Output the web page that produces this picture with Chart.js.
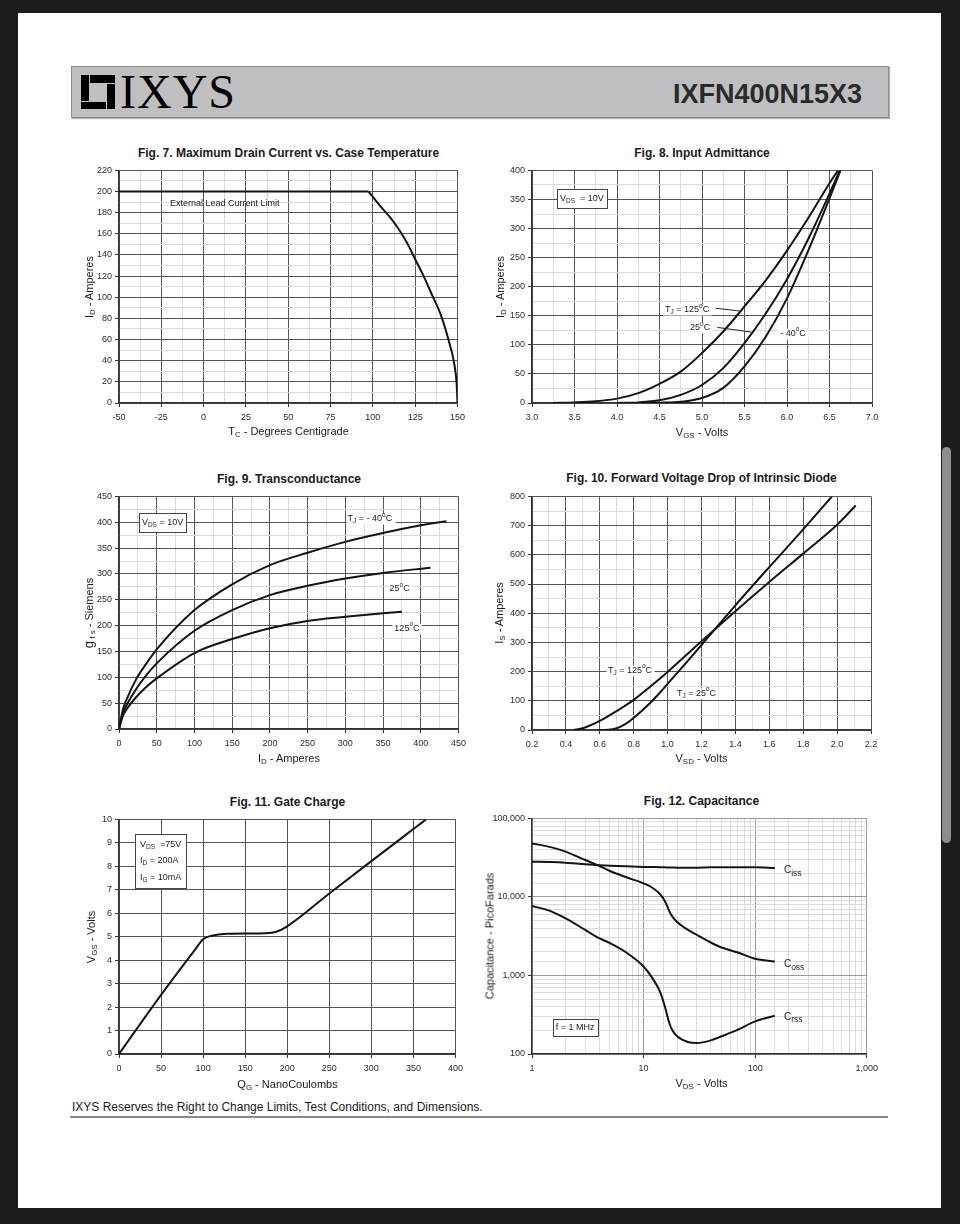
<!DOCTYPE html>
<html>
<head>
<meta charset="utf-8">
<script src="https://cdn.jsdelivr.net/npm/chart.js@4.4.1/dist/chart.umd.min.js"></script>
<style>
  html, body { margin: 0; padding: 0; background: #1c1c1e; overflow: hidden; }
  body { width: 960px; height: 1224px; position: relative; font-family: 'Liberation Sans', Arial, sans-serif; color: #1a1a1a; }
  .page { position: absolute; left: 18px; top: 13px; width: 923px; height: 1195px; background: #fff; }
  .scroll { position: absolute; left: 942px; top: 447px; width: 9px; height: 396px; border-radius: 5px; background: #8e8e8e; }
  .band { position: absolute; left: 71px; top: 66px; width: 816px; height: 50px; background: #bfbfc1; border: 1px solid #8d8d8d; box-shadow: 1px 1px 1px #b0b0b0; }
  .logo { position: absolute; background: #000; }
  .brand { position: absolute; left: 120px; top: 68px; font: 48px/48px 'Liberation Serif', 'Times New Roman', serif; letter-spacing: 1px; color: #000; }
  .part { position: absolute; right: 98px; top: 81px; font: bold 27px/27px 'Liberation Sans', Arial, sans-serif; color: #2a2a2a; }
  .footline { position: absolute; left: 70px; top: 1116px; width: 818px; height: 1.5px; background: #8a8a8a; }
  .txt { position: absolute; white-space: nowrap; line-height: 1; color: #1a1a1a; }
  .txt sub { font-size: 72%; vertical-align: -0.3em; line-height: 0; }
  canvas { position: absolute; }
</style>
</head>
<body>
<div class="page"></div>
<div class="scroll"></div>
<div class="band"></div>
<div class="logo" style="left:81px;top:75px;width:8px;height:26px"></div>
<div class="logo" style="left:90px;top:75px;width:25px;height:8px"></div>
<div class="logo" style="left:107px;top:84px;width:8px;height:25px"></div>
<div class="logo" style="left:81px;top:102px;width:25px;height:7px"></div>
<div class="brand">IXYS</div>
<div class="part">IXFN400N15X3</div>
<div class="footline"></div>

<canvas id="fig7"></canvas>
<canvas id="fig8"></canvas>
<canvas id="fig9"></canvas>
<canvas id="fig10"></canvas>
<canvas id="fig11"></canvas>
<canvas id="fig12"></canvas>

<script>
// Fig. 7 - max drain current vs case temperature (first 4 points = lead limit)
const caseTemp = [-50, 0, 50, 97.5, 105, 110, 115, 120, 125, 130, 135, 140, 145, 148, 149.5, 150];
const drainMax = [200, 200, 200, 200, 185, 176, 165, 152, 136, 120, 102, 84, 58, 38, 18, 0];

// Fig. 8 - input admittance
const vgs125 = [3.25, 3.5, 3.75, 4.0, 4.25, 4.5, 4.75, 5.0, 5.25, 5.5, 5.75, 6.0, 6.25, 6.5, 6.6];
const id125 = [0, 1, 3, 7.5, 17, 33, 54, 86, 123, 166, 211, 262, 318, 378, 400];
const vgs25 = [4.0, 4.25, 4.5, 4.75, 5.0, 5.25, 5.5, 5.75, 6.0, 6.25, 6.5, 6.62];
const id25 = [0, 1, 4.6, 14, 31, 60, 103, 154, 213, 282, 360, 400];
const vgsM40 = [4.3, 4.5, 4.75, 5.0, 5.25, 5.5, 5.75, 6.0, 6.25, 6.5, 6.63];
const idM40 = [0, 0.5, 2, 8.6, 26, 63, 114, 180, 262, 352, 400];

// Fig. 9 - transconductance
const idGfsM40 = [0, 5, 10, 23, 35, 50, 100, 150, 200, 250, 300, 350, 400, 434];
const gfsM40 = [0, 37, 57, 97, 124, 154, 230, 280, 317, 341, 362, 379, 394, 402];
const idGfs25 = [0, 5, 10, 23, 35, 50, 100, 150, 200, 250, 300, 350, 413];
const gfs25 = [0, 30, 46, 78, 102, 127, 190, 230, 259, 277, 291, 302, 312];
const idGfs125 = [0, 5, 10, 23, 35, 50, 100, 150, 200, 250, 300, 350, 375];
const gfs125 = [0, 25, 38, 62, 80, 98, 147, 174, 195, 209, 217, 224, 227];

// Fig. 10 - diode forward voltage
const vsd125 = [0.445, 0.5, 0.6, 0.7, 0.8, 0.9, 1.0, 1.2, 1.4, 1.6, 1.8, 2.0, 2.11];
const is125 = [0, 6, 31, 65, 103, 150, 199, 304, 407, 507, 604, 703, 769];
const vsd25 = [0.58, 0.65, 0.7, 0.75, 0.8, 0.85, 0.9, 0.95, 1.0, 1.1, 1.2, 1.4, 1.6, 1.8, 1.97];
const is25 = [0, 1, 6, 20, 42, 67, 94, 125, 158, 224, 291, 427, 558, 687, 800];

// Fig. 11 - gate charge
const gateCharge = [0, 50, 90, 100, 110, 128, 150, 167, 187, 199, 250, 300, 350, 365];
const gateVolts = [0, 2.52, 4.43, 4.89, 5.04, 5.13, 5.14, 5.14, 5.21, 5.42, 6.84, 8.22, 9.59, 10];

// Fig. 12 - capacitance
const vdsCap = [1, 1.5, 2, 3, 4, 5, 7, 10, 12, 14, 15.5, 17, 18, 20, 25, 30, 40, 50, 70, 100, 150];
const ciss = [28100, 27900, 27300, 26000, 25300, 25000, 24500, 24100, 24000, 23900, 23800, 23700, 23700, 23600, 23600, 23600, 23800, 23800, 23800, 23800, 23400];
const coss = [48100, 42800, 37700, 29500, 24800, 21400, 17800, 14900, 13100, 10900, 8900, 6600, 5700, 4800, 3800, 3290, 2630, 2270, 1960, 1630, 1510];
const crss = [7690, 6510, 5350, 3800, 2980, 2580, 1960, 1300, 925, 626, 404, 248, 204, 168, 142, 138, 149, 168, 204, 260, 307];

const FAMILY = "'Liberation Sans', Arial, sans-serif";
const MAJOR = '#555';
const MINOR = '#dadada';
Chart.defaults.font.family = FAMILY;
Chart.defaults.font.size = 9;
Chart.defaults.color = '#2a2a2a';

// plot rectangles on the page
const boxes = {
  fig7:  { L: 119, T: 170, R: 458, B: 403, titleY: 153, xTitleY: 431, yTitleX: 89 },
  fig8:  { L: 532, T: 170, R: 872, B: 403, titleY: 153, xTitleY: 432, yTitleX: 500 },
  fig9:  { L: 119, T: 496, R: 459, B: 729, titleY: 479, xTitleY: 758, yTitleX: 88 },
  fig10: { L: 532, T: 496, R: 871, B: 730, titleY: 478, xTitleY: 758, yTitleX: 499 },
  fig11: { L: 119, T: 819, R: 456, B: 1054, titleY: 802, xTitleY: 1084, yTitleX: 91 },
  fig12: { L: 532, T: 818, R: 871, B: 1054, titleY: 801, xTitleY: 1083, yTitleX: 490 }
};

const texts = {
  fig7:  ['Fig. 7. Maximum Drain Current vs. Case Temperature', 'T<sub>C</sub> - Degrees Centigrade', 'I<sub>D</sub> - Amperes'],
  fig8:  ['Fig. 8. Input Admittance', 'V<sub>GS</sub> - Volts', 'I<sub>D</sub> - Amperes'],
  fig9:  ['Fig. 9. Transconductance', 'I<sub>D</sub> - Amperes', '<span style="font-size:13px">g</span><sub> f s</sub> - Siemens'],
  fig10: ['Fig. 10. Forward Voltage Drop of Intrinsic Diode', 'V<sub>SD</sub> - Volts', 'I<sub>S</sub> - Amperes'],
  fig11: ['Fig. 11. Gate Charge', 'Q<sub>G</sub> - NanoCoulombs', 'V<sub>GS</sub> - Volts'],
  fig12: ['Fig. 12. Capacitance', 'V<sub>DS</sub> - Volts', 'Capacitance - PicoFarads']
};

const notes = {
  fig7: [{ x: -19.9, y: 188.8, text: 'External Lead Current Limit' }],
  fig8: [
    { x: 3.33, y: 352, text: 'V_{DS}  = 10V', box: true, pad: [3, 5] },
    { x: 4.565, y: 160, text: 'T_{J} = 125^{o}C', bg: true, line: [5.16, 163, 5.45, 158] },
    { x: 4.86, y: 129, text: '25^{o}C', bg: true, line: [5.18, 130, 5.58, 122] },
    { x: 5.92, y: 120, text: '- 40^{o}C', bg: true }
  ],
  fig9: [
    { x: 30.4, y: 400, text: 'V_{DS} = 10V', box: true, pad: [3, 5] },
    { x: 303, y: 407, text: 'T_{J} = - 40^{o}C', bg: true },
    { x: 358.7, y: 272, text: '25^{o}C', bg: true },
    { x: 365, y: 195, text: '125^{o}C', bg: true }
  ],
  fig10: [
    { x: 0.648, y: 205, text: 'T_{J} = 125^{o}C', bg: true },
    { x: 1.055, y: 126, text: 'T_{J} = 25^{o}C', bg: true }
  ],
  fig11: [
    { x: 25, y: 8.94, lines: ['V_{DS}  =75V', 'I_{D} = 200A', 'I_{G} = 10mA'], gap: 16.5, box: true, pad: [5, 6] }
  ],
  fig12: [
    { x: 181, y: 21800, text: 'C_{iss}', size: 10, sub: 0.85 },
    { x: 181, y: 1390, text: 'C_{oss}', size: 10, sub: 0.85 },
    { x: 181, y: 295, text: 'C_{rss}', size: 10, sub: 0.85 },
    { x: 1.63, y: 217, text: 'f = 1 MHz', box: true, pad: [3, 4] }
  ]
};

function parseRich(s) {
  const out = [];
  const re = /([_^])\{([^}]*)\}/g;
  let last = 0, m;
  while ((m = re.exec(s))) {
    if (m.index > last) out.push({ t: s.slice(last, m.index), k: '' });
    out.push({ t: m[2], k: m[1] === '_' ? 'sub' : 'sup' });
    last = re.lastIndex;
  }
  if (last < s.length) out.push({ t: s.slice(last), k: '' });
  return out;
}

function richWidth(ctx, parts, size, sub) {
  let w = 0;
  parts.forEach(p => {
    ctx.font = (p.k ? size * sub : size) + 'px ' + FAMILY;
    w += ctx.measureText(p.t).width;
  });
  return w;
}

function drawRich(ctx, parts, x, y, size, sub) {
  let cx = x;
  parts.forEach(p => {
    ctx.font = (p.k ? size * sub : size) + 'px ' + FAMILY;
    const dy = p.k === 'sub' ? size * 0.3 : p.k === 'sup' ? -size * 0.4 : 0;
    ctx.fillText(p.t, cx, y + dy);
    cx += ctx.measureText(p.t).width;
  });
}

Chart.register({
  id: 'notes',
  afterDatasetsDraw(chart) {
    const items = notes[chart.canvas.id] || [];
    const ctx = chart.ctx, sx = chart.scales.x, sy = chart.scales.y;
    items.forEach(it => {
      ctx.save();
      if (it.line) {
        ctx.strokeStyle = '#222';
        ctx.lineWidth = 1;
        ctx.beginPath();
        ctx.moveTo(sx.getPixelForValue(it.line[0]), sy.getPixelForValue(it.line[1]));
        ctx.lineTo(sx.getPixelForValue(it.line[2]), sy.getPixelForValue(it.line[3]));
        ctx.stroke();
      }
      const size = it.size || 9, gap = it.gap || 16, sub = it.sub || 0.72;
      const lines = (it.lines || [it.text]).map(parseRich);
      const px = sx.getPixelForValue(it.x), py = sy.getPixelForValue(it.y);
      const w = Math.max(...lines.map(l => richWidth(ctx, l, size, sub)));
      const h = size + gap * (lines.length - 1);
      const pad = it.pad || [2, 1];
      const rx = Math.round(px - pad[0]) + 0.5, ry = Math.round(py - size / 2 - pad[1]) + 0.5;
      const rw = Math.round(w + 2 * pad[0]), rh = Math.round(h + 2 * pad[1]);
      if (it.box || it.bg) {
        ctx.fillStyle = '#fff';
        ctx.fillRect(rx, ry, rw, rh);
      }
      if (it.box) {
        ctx.strokeStyle = '#444';
        ctx.lineWidth = 1;
        ctx.strokeRect(rx, ry, rw, rh);
      }
      ctx.fillStyle = '#1a1a1a';
      ctx.textBaseline = 'middle';
      ctx.textAlign = 'left';
      lines.forEach((l, i) => drawRich(ctx, l, px, py + i * gap, size, sub));
      ctx.restore();
    });
  }
});

function linAxis(min, max, step, major, digits, isX) {
  const isMajor = v => Math.abs(v / major - Math.round(v / major)) < 1e-6;
  return {
    type: 'linear', min: min, max: max,
    afterFit: s => { if (isX) s.height = 30; else s.width = 50; },
    ticks: {
      stepSize: step, autoSkip: false, maxRotation: 0, padding: isX ? 5 : 3,
      callback: v => isMajor(v) ? v.toFixed(digits) : ''
    },
    grid: {
      color: c => isMajor(c.tick.value) ? MAJOR : MINOR,
      tickColor: c => isMajor(c.tick.value) ? '#333' : 'rgba(0,0,0,0)',
      tickLength: 4, lineWidth: 1
    },
    border: { color: '#333', width: 1.5 }
  };
}

function logAxis(min, max, isX) {
  const isDecade = v => { const e = Math.log10(v); return Math.abs(e - Math.round(e)) < 1e-9; };
  return {
    type: 'logarithmic', min: min, max: max,
    afterFit: s => { if (isX) s.height = 30; else s.width = 50; },
    ticks: {
      autoSkip: false, maxRotation: 0, padding: isX ? 5 : 3,
      callback: v => isDecade(v) ? Number(v).toLocaleString('en-US') : ''
    },
    grid: {
      color: c => isDecade(c.tick.value) ? '#9a9a9a' : MINOR,
      tickColor: c => isDecade(c.tick.value) ? '#333' : 'rgba(0,0,0,0)',
      tickLength: 4, lineWidth: 1
    },
    border: { color: '#333', width: 1.5 }
  };
}

function series(xs, ys) {
  return {
    data: xs.map((x, i) => ({ x: x, y: ys[i] })),
    showLine: true, fill: false,
    borderColor: '#141414', borderWidth: 2,
    pointRadius: 0, cubicInterpolationMode: 'monotone'
  };
}

function place(html, x, y, size, bold, rot) {
  const d = document.createElement('div');
  d.className = 'txt';
  d.innerHTML = html;
  d.style.left = x + 'px';
  d.style.top = y + 'px';
  d.style.fontSize = size + 'px';
  if (bold) d.style.fontWeight = 'bold';
  d.style.transform = rot ? 'translate(-50%,-50%) rotate(-90deg)' : 'translate(-50%,-50%)';
  document.body.appendChild(d);
  return d;
}

function makeChart(id, scales, datasets) {
  const b = boxes[id];
  const cv = document.getElementById(id);
  const w = b.R - b.L + 62, h = b.B - b.T + 38;
  cv.width = w; cv.height = h;
  cv.style.left = (b.L - 50) + 'px';
  cv.style.top = (b.T - 8) + 'px';
  cv.style.width = w + 'px';
  cv.style.height = h + 'px';
  new Chart(cv, {
    type: 'scatter',
    data: { datasets: datasets },
    options: {
      responsive: false, animation: false, events: [],
      layout: { padding: { left: 0, right: 12, top: 8, bottom: 0 }, autoPadding: false },
      plugins: { legend: { display: false }, tooltip: { enabled: false } },
      scales: scales
    }
  });
  const t = texts[id], cx = (b.L + b.R) / 2;
  place(t[0], cx, b.titleY, 12, true, false);
  place(t[1], cx, b.xTitleY, 11, false, false);
  place(t[2], b.yTitleX, (b.T + b.B) / 2, 11, false, true);
}

makeChart('fig7',
  { x: linAxis(-50, 150, 12.5, 25, 0, true), y: linAxis(0, 220, 10, 20, 0, false) },
  [series(caseTemp.slice(0, 4), drainMax.slice(0, 4)), series(caseTemp.slice(3), drainMax.slice(3))]);

makeChart('fig8',
  { x: linAxis(3, 7, 0.25, 0.5, 1, true), y: linAxis(0, 400, 25, 50, 0, false) },
  [series(vgs125, id125), series(vgs25, id25), series(vgsM40, idM40)]);

makeChart('fig9',
  { x: linAxis(0, 450, 25, 50, 0, true), y: linAxis(0, 450, 25, 50, 0, false) },
  [series(idGfsM40, gfsM40), series(idGfs25, gfs25), series(idGfs125, gfs125)]);

makeChart('fig10',
  { x: linAxis(0.2, 2.2, 0.1, 0.2, 1, true), y: linAxis(0, 800, 50, 100, 0, false) },
  [series(vsd125, is125), series(vsd25, is25)]);

makeChart('fig11',
  { x: linAxis(0, 400, 50, 50, 0, true), y: linAxis(0, 10, 1, 1, 0, false) },
  [series(gateCharge, gateVolts)]);

makeChart('fig12',
  { x: logAxis(1, 1000, true), y: logAxis(100, 100000, false) },
  [series(vdsCap, ciss), series(vdsCap, coss), series(vdsCap, crss)]);

const foot = place('IXYS Reserves the Right to Change Limits, Test Conditions, and Dimensions.', 72, 1107, 12, false, false);
foot.style.transform = 'translate(0,-50%)';
</script>
</body>
</html>
